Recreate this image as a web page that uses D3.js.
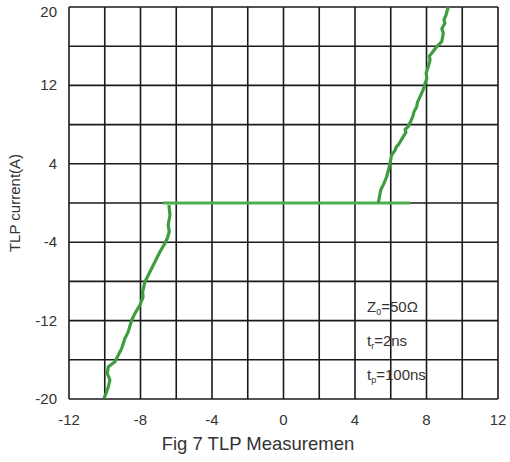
<html>
<head>
<script src="https://d3js.org/d3.v7.min.js"></script>
<style>
  body { margin: 0; background: #fff; }
  text { font-family: Arial, "Liberation Sans", sans-serif; }
</style>
</head>
<body>
<svg width="510" height="462"></svg>
<script>
// axis ticks
const xTicks = [-12, -8, -4, 0, 4, 8, 12];
const yTicks = [20, 12, 4, -4, -12, -20];
const xGrid = d3.range(-12, 12.1, 2);
const yGrid = d3.range(-20, 20.1, 4);

// snapback holding line
const holdV = [-6.74, 7.08];
const holdI = [0, 0];

// positive branch (V, A)
const posV = [5.30, 5.44, 5.62, 5.77, 5.92, 6.05, 6.25, 6.30, 6.42, 6.70, 6.85, 6.80, 6.98, 7.23, 7.30, 7.45, 7.50, 7.64, 7.80, 7.92, 8.02, 7.98, 8.10, 8.20, 8.16, 8.29, 8.57, 8.85, 8.94, 8.86, 9.03, 8.98, 9.09, 9.22];
const posI = [0, 1.33, 2.00, 2.68, 3.70, 4.90, 5.40, 5.70, 5.92, 6.77, 7.20, 7.50, 7.79, 8.81, 9.30, 9.83, 10.30, 10.85, 11.50, 12.21, 12.70, 13.30, 13.91, 14.60, 15.00, 15.28, 15.95, 16.46, 17.32, 17.80, 18.34, 18.70, 19.18, 20.0];

// negative branch (V, A)
const negV = [-6.41, -6.35, -6.45, -6.39, -6.50, -6.63, -6.91, -7.19, -7.47, -7.75, -7.88, -7.86, -8.03, -8.31, -8.49, -8.63, -8.70, -8.87, -9.05, -9.24, -9.43, -9.80, -9.86, -9.71, -9.80, -9.93, -10.04];
const negI = [-0.2, -1.22, -2.24, -2.93, -3.60, -4.11, -4.97, -5.99, -7.01, -8.03, -9.05, -9.60, -10.41, -11.26, -11.94, -12.79, -13.20, -13.81, -14.83, -15.51, -16.19, -16.70, -17.38, -18.06, -18.74, -19.42, -19.93];

const notes = [["Z", "0", "=50Ω"], ["t", "r", "=2ns"], ["t", "p", "=100ns"]];

const L = 69, R = 498, T = 7, B = 399;
const x = d3.scaleLinear().domain([-12, 12]).range([L, R]);
const y = d3.scaleLinear().domain([-20, 20]).range([B, T]);

const svg = d3.select('svg');

// grid
svg.append('g')
  .selectAll('line')
  .data(xGrid)
  .join('line')
  .attr('x1', d => x(d)).attr('x2', d => x(d))
  .attr('y1', T).attr('y2', B)
  .attr('stroke', '#1a1a1a').attr('stroke-width', 1.6);
svg.append('g')
  .selectAll('line')
  .data(yGrid)
  .join('line')
  .attr('x1', L).attr('x2', R)
  .attr('y1', d => y(d)).attr('y2', d => y(d))
  .attr('stroke', '#1a1a1a').attr('stroke-width', 1.6);

// tick labels (top one sits a little lower so it stays inside the page)
svg.append('g')
  .selectAll('text')
  .data(yTicks)
  .join('text')
  .attr('x', 57).attr('y', d => Math.max(y(d) + 5, 17))
  .attr('text-anchor', 'end')
  .style('font-size', '15px').style('fill', '#333')
  .text(d => d);
svg.append('g')
  .selectAll('text')
  .data(xTicks)
  .join('text')
  .attr('x', d => x(d)).attr('y', 425)
  .attr('text-anchor', 'middle')
  .style('font-size', '15px').style('fill', '#333')
  .text(d => d);

// axis titles
svg.append('text')
  .attr('x', 258).attr('y', 450)
  .attr('text-anchor', 'middle')
  .style('font-size', '18.5px').style('fill', '#333')
  .text('Fig 7 TLP Measuremen');
svg.append('text')
  .attr('transform', 'translate(20, 203) rotate(-90)')
  .attr('text-anchor', 'middle')
  .style('font-size', '15px').style('fill', '#333')
  .text('TLP current(A)');

// curves
let line = d3.line().x(d => x(d[0])).y(d => y(d[1]));
svg.append('path')
  .datum(d3.zip(holdV, holdI))
  .attr('d', line)
  .attr('fill', 'none').attr('stroke', '#4cae4c').attr('stroke-width', 3);
svg.append('path')
  .datum(d3.zip(posV, posI))
  .attr('d', line)
  .attr('fill', 'none').attr('stroke', '#3f9c3f').attr('stroke-width', 3.2)
  .attr('stroke-linejoin', 'round');
svg.append('path')
  .datum(d3.zip(negV, negI))
  .attr('d', line)
  .attr('fill', 'none').attr('stroke', '#3f9c3f').attr('stroke-width', 3.2)
  .attr('stroke-linejoin', 'round');

// test conditions
let nt = svg.append('g')
  .selectAll('text')
  .data(notes)
  .join('text')
  .attr('x', 367).attr('y', (d, i) => 312 + i * 34)
  .style('font-size', '15px').style('fill', '#333');
nt.append('tspan').text(d => d[0]);
nt.append('tspan').attr('dy', 3).style('font-size', '9px').text(d => d[1]);
nt.append('tspan').attr('dy', -3).text(d => d[2]);
</script>
</body>
</html>
